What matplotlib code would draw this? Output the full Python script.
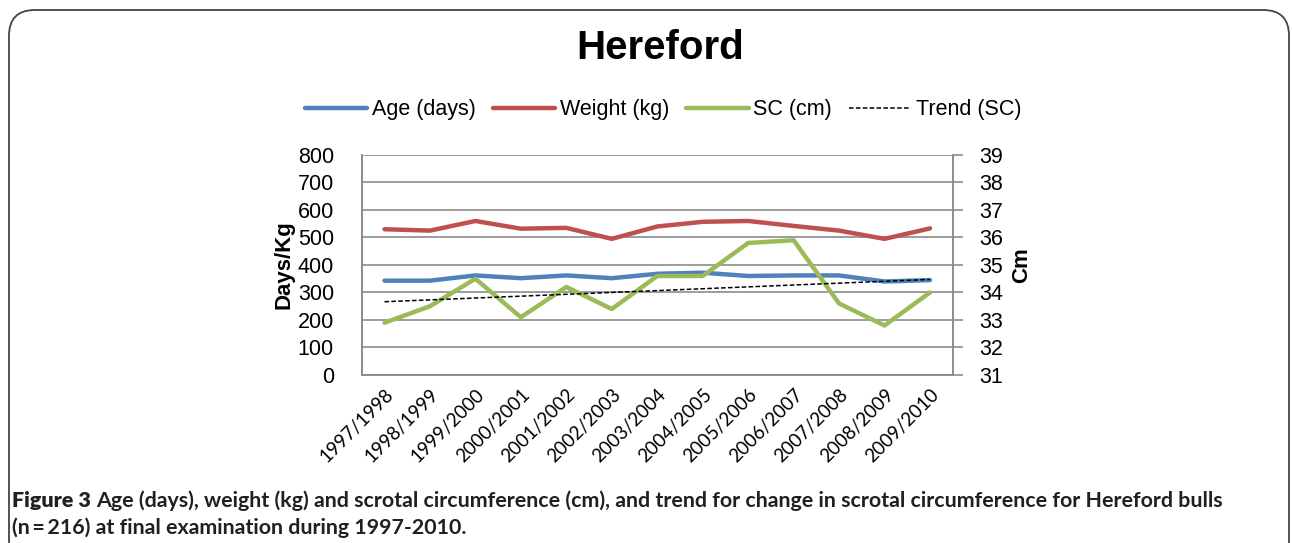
import numpy as np
import matplotlib.pyplot as plt
from matplotlib.patches import FancyBboxPatch

seasons = ['1997/1998', '1998/1999', '1999/2000', '2000/2001', '2001/2002',
           '2002/2003', '2003/2004', '2004/2005', '2005/2006', '2006/2007',
           '2007/2008', '2008/2009', '2009/2010']
age_days = [343, 343, 362, 352, 362, 352, 368, 372, 360, 362, 362, 340, 345]
weight_kg = [530, 525, 560, 532, 535, 495, 540, 557, 560, 542, 525, 495, 533]
sc_cm = [32.9, 33.5, 34.5, 33.1, 34.2, 33.4, 34.6, 34.6, 35.8, 35.9, 33.6, 32.8, 34.0]

plt.rcParams['font.family'] = ['Liberation Sans', 'DejaVu Sans']

fig = plt.figure(figsize=(12.92, 5.43), dpi=100)
ax = fig.add_axes([0.28, 0.3094, 0.4574, 0.4052])
ax2 = ax.twinx()

x = np.arange(len(seasons))
grey = '#8c8c8c'

ax.plot(x, age_days, color='#4F81BD', lw=3.2, solid_capstyle='round', label='Age (days)')
ax.plot(x, weight_kg, color='#C0504D', lw=3.2, solid_capstyle='round', label='Weight (kg)')
ax2.plot(x, sc_cm, color='#9BBB59', lw=3.2, solid_capstyle='round', label='SC (cm)')

# linear trend of SC
coef = np.polyfit(x, sc_cm, 1)
ax2.plot(x, np.polyval(coef, x), color='black', lw=1.1, ls=(0, (3, 1.5)), label='Trend (SC)')

ax.set_xlim(-0.5, len(seasons) - 0.5)
ax.set_ylim(0, 800)
ax.set_yticks(range(0, 801, 100))
ax2.set_ylim(31, 39)
ax2.set_yticks(range(31, 40))

ax.grid(axis='y', color=grey, lw=1.2)
ax.set_axisbelow(True)
for a in (ax, ax2):
    a.spines['top'].set_visible(False)
    for s in ('left', 'right', 'bottom'):
        a.spines[s].set_color(grey)
        a.spines[s].set_linewidth(1.2)

ax.tick_params(axis='y', length=0, pad=20, labelsize=15.5)
ax2.tick_params(axis='y', length=7, width=1.2, color=grey, pad=12, labelsize=15.5)
ax.set_xticks(x)
ax.set_xticklabels(seasons, rotation=45, ha='right', rotation_mode='anchor',
                   fontsize=13.5, family=['Lato', 'DejaVu Sans'])
ax.tick_params(axis='x', length=0, pad=8)

ax.set_ylabel('Days/Kg', fontsize=16, fontweight='bold', labelpad=2)
ax2.set_ylabel('Cm', fontsize=16, fontweight='bold', labelpad=6)

fig.text(660 / 1292, 1 - 48 / 543, 'Hereford', ha='center', va='center',
         fontsize=29, fontweight='bold')

h1, l1 = ax.get_legend_handles_labels()
h2, l2 = ax2.get_legend_handles_labels()
fig.legend(h1 + h2, l1 + l2, loc='center', bbox_to_anchor=(663 / 1292, 1 - 110 / 543),
           ncol=4, frameon=False, fontsize=15.5, handlelength=2.9, handletextpad=0.2,
           columnspacing=0.8)

# caption
cap_font = ['Lato', 'DejaVu Sans']
cap_size = 15.4
r = fig.canvas.get_renderer()
t = fig.text(12 / 1292, 1 - 501 / 543, 'Figure 3', ha='left', va='center',
             fontsize=cap_size, fontweight='heavy', color='#231f20', family=cap_font)
bb = t.get_window_extent(renderer=r)
fig.text((bb.x1 + 5) / 1292, 1 - 501 / 543,
         'Age (days), weight (kg) and scrotal circumference (cm), and trend for change in scrotal circumference for Hereford bulls',
         ha='left', va='center', fontsize=cap_size, fontweight='bold', color='#231f20',
         family=cap_font)
fig.text(12 / 1292, 1 - 528 / 543,
         '(n\u2009=\u2009216) at final examination during 1997-2010.',
         ha='left', va='center', fontsize=cap_size, fontweight='bold', color='#231f20',
         family=cap_font)

border = FancyBboxPatch((9 / 1292, -0.2), 1280 / 1292, 1.2 - 10 / 543,
                        boxstyle='round,pad=0,rounding_size=0.02',
                        transform=fig.transFigure, fill=False, ec='#444444', lw=1.3,
                        clip_on=False, mutation_aspect=1292 / 543)
fig.patches.append(border)

fig.savefig('out.png', dpi=100)
